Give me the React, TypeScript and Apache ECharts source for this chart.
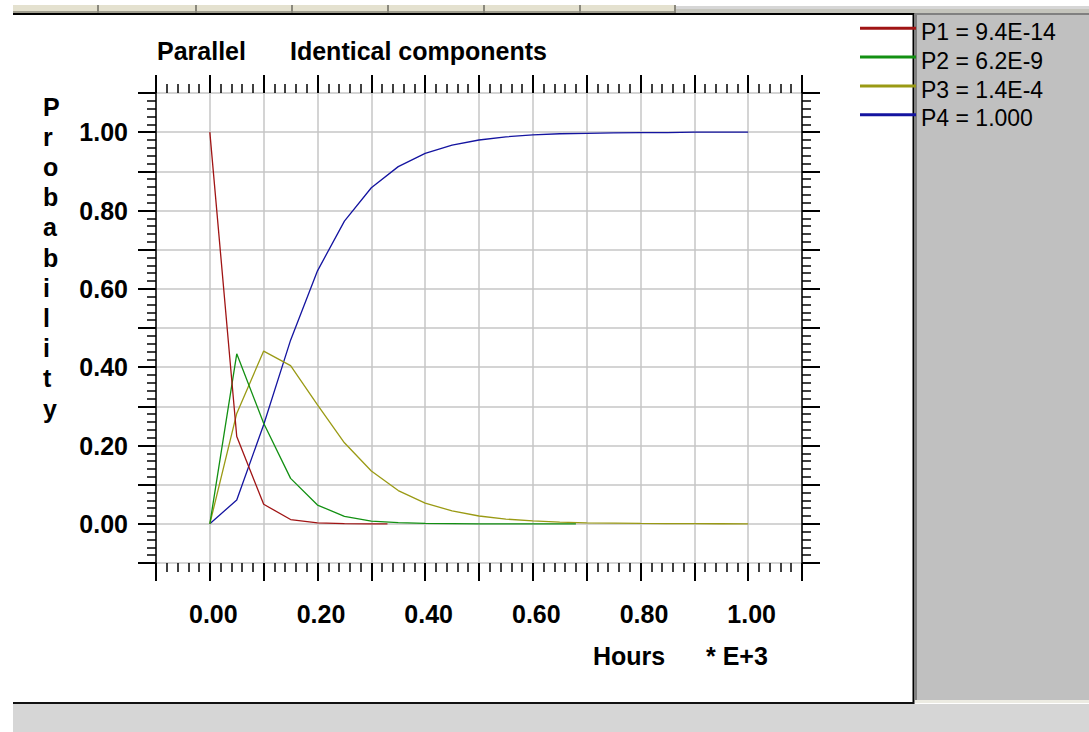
import React, { useEffect, useRef } from "react";
import * as echarts from "echarts";

// ---- data (x in thousands of hours) ----
const p1Hours = [0, 0.05, 0.1, 0.15, 0.2, 0.25, 0.3, 0.33];
const p1Values = [1.0, 0.223, 0.05, 0.011, 0.0025, 0.0006, 0.0001, 0.0];

const p2Hours = [0, 0.05, 0.1, 0.15, 0.2, 0.25, 0.3, 0.35, 0.4, 0.45, 0.5, 0.55, 0.6, 0.65, 0.68];
const p2Values = [0, 0.434, 0.257, 0.116, 0.048, 0.019, 0.007, 0.003, 0.001, 0.0004, 0.0001, 0.0001, 0.0, 0.0, 0.0];

const p3Hours = [0, 0.05, 0.1, 0.15, 0.2, 0.25, 0.3, 0.35, 0.4, 0.45, 0.5, 0.55, 0.6, 0.65, 0.7, 0.75, 0.8, 0.85, 0.9, 0.95, 1.0];
const p3Values = [0, 0.282, 0.441, 0.404, 0.304, 0.207, 0.135, 0.085, 0.053, 0.033, 0.02, 0.012, 0.0074, 0.0045, 0.0027, 0.0017, 0.001, 0.0006, 0.0004, 0.0002, 0.0001];

const p4Hours = [0, 0.05, 0.1, 0.15, 0.2, 0.25, 0.3, 0.35, 0.4, 0.45, 0.5, 0.55, 0.6, 0.65, 0.7, 0.75, 0.8, 0.85, 0.9, 0.95, 1.0];
const p4Values = [0, 0.061, 0.253, 0.469, 0.646, 0.773, 0.858, 0.912, 0.946, 0.967, 0.98, 0.988, 0.993, 0.996, 0.997, 0.998, 0.999, 0.999, 1.0, 1.0, 1.0];

const seriesNames = ["P1 = 9.4E-14", "P2 = 6.2E-9", "P3 = 1.4E-4", "P4 = 1.000"];
const seriesColors = ["#a01414", "#129012", "#9a9a14", "#1414a0"];

const titleLeft = "Parallel";
const titleRight = "Identical components";
const yTitle = "Probability";
const xTitle = "Hours";
const xScale = "* E+3";

const BOLD = "bold 25px 'Liberation Sans', Arial, sans-serif";

function tickLabel(v: number): string {
  const k = Math.round(v * 10);
  if (k < 0 || k > 10 || k % 2 !== 0) return "";
  return (k / 10).toFixed(2);
}

function pairs(xs: number[], ys: number[]) {
  return xs.map((x, i) => [x, ys[i]]);
}

export default function App() {
  const ref = useRef<HTMLDivElement>(null);

  useEffect(() => {
    if (!ref.current) return;
    const chart = echarts.init(ref.current, undefined, { renderer: "svg" });

    const tickCommon = {
      axisLine: { show: false, onZero: false },
      axisTick: { show: true, inside: false, length: 18, lineStyle: { color: "#000", width: 2 } },
      minorTick: { show: true, splitNumber: 5, length: 9, lineStyle: { color: "#000", width: 1.5 } },
    };

    const labelStyle = {
      fontFamily: "'Liberation Sans', Arial, sans-serif",
      fontWeight: "bold" as const,
      fontSize: 25,
      color: "#000",
    };

    const xs = [p1Hours, p2Hours, p3Hours, p4Hours];
    const ys = [p1Values, p2Values, p3Values, p4Values];

    // legend layout: first key line centre, spacing between keys
    const keyTop = 28.3;
    const keyStep = 28.8;

    const option: any = {
      animation: false,
      backgroundColor: "#ffffff",
      grid: { left: 156, right: 287, top: 93, bottom: 169, containLabel: false },
      legend: {
        orient: "vertical",
        left: 860,
        top: keyTop + 3.6 - keyStep / 2,
        padding: 0,
        itemGap: 0,
        itemWidth: 56,
        itemHeight: 3,
        icon: "rect",
        itemStyle: { opacity: 0 },
        selectedMode: false,
        data: seriesNames,
        textStyle: {
          fontFamily: "'Liberation Sans', Arial, sans-serif",
          fontSize: 23,
          color: "#000",
          lineHeight: keyStep,
        },
      },
      xAxis: [
        {
          type: "value",
          position: "bottom",
          min: -0.1,
          max: 1.1,
          interval: 0.1,
          ...tickCommon,
          splitLine: { show: true, lineStyle: { color: "#c6c6c6", width: 1.5 } },
          axisLabel: {
            ...labelStyle,
            margin: 38,
            lineHeight: 26,
            padding: [0, 0, 0, 7],
            formatter: tickLabel,
            showMinLabel: true,
            showMaxLabel: true,
          },
        },
        {
          type: "value",
          position: "top",
          min: -0.1,
          max: 1.1,
          interval: 0.1,
          ...tickCommon,
          splitLine: { show: false },
          axisLabel: { show: false },
        },
      ],
      yAxis: [
        {
          type: "value",
          position: "left",
          min: -0.1,
          max: 1.1,
          interval: 0.1,
          ...tickCommon,
          axisLine: { show: true, onZero: false, lineStyle: { color: "#000", width: 1.5 } },
          splitLine: { show: true, lineStyle: { color: "#c6c6c6", width: 1.5 } },
          axisLabel: { ...labelStyle, margin: 28, formatter: tickLabel },
        },
        {
          type: "value",
          position: "right",
          min: -0.1,
          max: 1.1,
          interval: 0.1,
          ...tickCommon,
          axisLine: { show: true, onZero: false, lineStyle: { color: "#000", width: 1.5 } },
          splitLine: { show: false },
          axisLabel: { show: false },
        },
      ],
      series: seriesNames.map((name, i) => ({
        name,
        type: "line",
        xAxisIndex: 0,
        yAxisIndex: 0,
        data: pairs(xs[i], ys[i]),
        showSymbol: false,
        symbol: "none",
        color: seriesColors[i],
        itemStyle: { color: seriesColors[i] },
        lineStyle: { color: seriesColors[i], width: 1.3 },
        z: 10 - i,
      })),
      graphic: [
        // top strip
        { type: "rect", z: -5, shape: { x: 13, y: 5, width: 662, height: 7 }, style: { fill: "#e4e1cf" } },
        { type: "rect", z: -5, shape: { x: 13, y: 11, width: 662, height: 2 }, style: { fill: "#a09e90" } },
        { type: "rect", z: -5, shape: { x: 675, y: 6, width: 414, height: 3 }, style: { fill: "#d6d6d6" } },
        { type: "rect", z: -5, shape: { x: 675, y: 9, width: 414, height: 5 }, style: { fill: "#c4c4bc" } },
        ...[98, 196, 292, 388, 484, 580, 675].map((sx) => ({
          type: "rect",
          z: -4,
          shape: { x: sx - 1, y: 5, width: 2, height: 8 },
          style: { fill: "#8a887c" },
        })),
        { type: "line", z: -3, shape: { x1: 13, y1: 14, x2: 914, y2: 14 }, style: { stroke: "#000", lineWidth: 2 } },
        // right legend panel
        { type: "rect", z: -5, shape: { x: 915, y: 13, width: 174, height: 689 }, style: { fill: "#c0c0c0" } },
        { type: "rect", z: -4, shape: { x: 915, y: 13, width: 174, height: 2 }, style: { fill: "#808080" } },
        { type: "rect", z: -4, shape: { x: 915, y: 13, width: 2, height: 689 }, style: { fill: "#808080" } },
        { type: "rect", z: -4, shape: { x: 915, y: 700, width: 174, height: 3 }, style: { fill: "#ecebe2" } },
        { type: "line", z: -3, shape: { x1: 913.5, y1: 13, x2: 913.5, y2: 704 }, style: { stroke: "#000", lineWidth: 2 } },
        // legend key lines
        ...seriesColors.map((c, i) => ({
          type: "line",
          z: 5,
          shape: { x1: 860, y1: keyTop + i * keyStep, x2: 916, y2: keyTop + i * keyStep },
          style: { stroke: c, lineWidth: 3 },
        })),
        // bottom strip
        { type: "line", z: -3, shape: { x1: 13, y1: 703, x2: 914, y2: 703 }, style: { stroke: "#111", lineWidth: 2 } },
        { type: "rect", z: -5, shape: { x: 13, y: 704, width: 1076, height: 28 }, style: { fill: "#d6d6d6" } },
        // texts
        {
          type: "text",
          z: 20,
          style: { x: 157, y: 51, text: titleLeft, font: BOLD, fill: "#000", verticalAlign: "middle", align: "left" },
        },
        {
          type: "text",
          z: 20,
          style: { x: 290, y: 51, text: titleRight, font: BOLD, fill: "#000", verticalAlign: "middle", align: "left" },
        },
        {
          type: "text",
          z: 20,
          style: {
            x: 43,
            y: 91.5,
            text: yTitle.split("").join("\n"),
            font: BOLD,
            fill: "#000",
            lineHeight: 30.2,
            verticalAlign: "top",
            align: "left",
          },
        },
        {
          type: "text",
          z: 20,
          style: { x: 593, y: 656, text: xTitle, font: BOLD, fill: "#000", verticalAlign: "middle", align: "left" },
        },
        {
          type: "text",
          z: 20,
          style: { x: 706, y: 656, text: xScale, font: BOLD, fill: "#000", verticalAlign: "middle", align: "left" },
        },
      ],
    };

    chart.setOption(option);
    return () => {
      chart.dispose();
    };
  }, []);

  return (
    <div
      ref={ref}
      style={{ position: "absolute", left: 0, top: 0, width: 1089, height: 732, background: "#fff" }}
    />
  );
}
